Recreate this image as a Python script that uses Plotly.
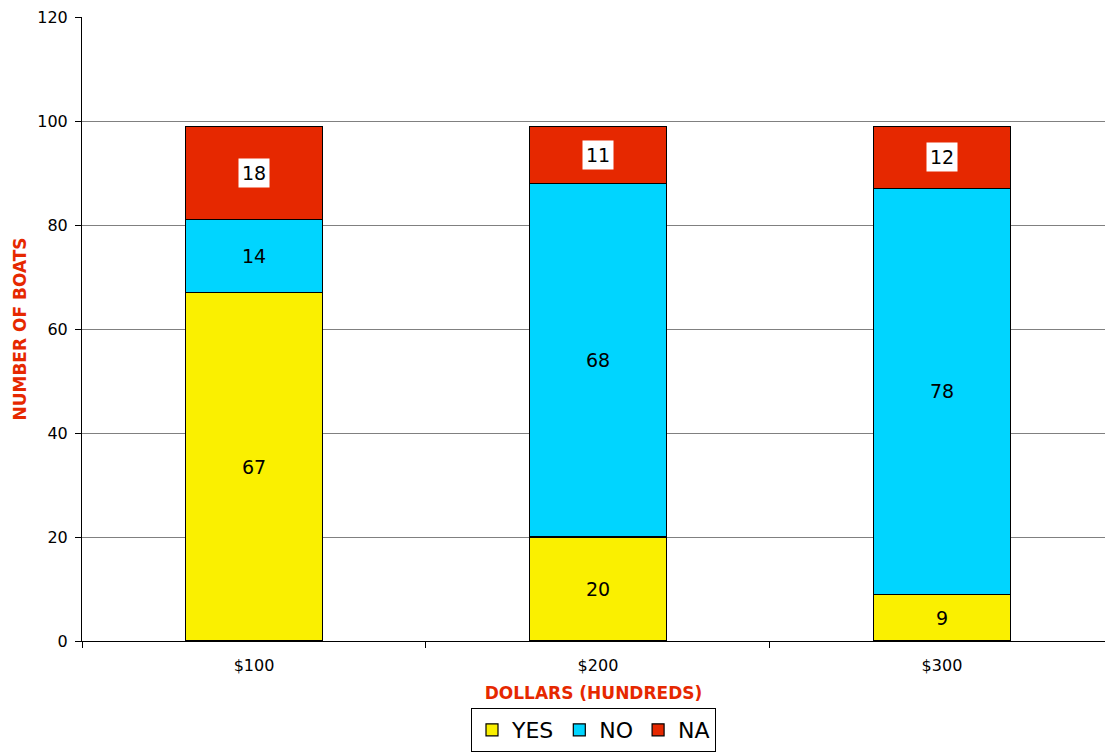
import plotly.graph_objects as go

categories = ["$100", "$200", "$300"]
yes_vals = [67, 20, 9]
no_vals = [14, 68, 78]
na_vals = [18, 11, 12]
y_ticks = [0, 20, 40, 60, 80, 100, 120]

colors = {"YES": "#faf000", "NO": "#00d5ff", "NA": "#e62800"}
font_family = "DejaVu Sans, Verdana, sans-serif"

fig = go.Figure()
for name, vals in [("YES", yes_vals), ("NO", no_vals), ("NA", na_vals)]:
    fig.add_trace(go.Bar(
        x=categories, y=vals, name=name,
        marker=dict(color=colors[name], line=dict(color="#000000", width=1.2)),
        width=0.4,
    ))

# value labels centred in each segment; NA labels sit on white boxes
for i, cat in enumerate(categories):
    base = 0
    for name, vals in [("YES", yes_vals), ("NO", no_vals), ("NA", na_vals)]:
        v = vals[i]
        fig.add_annotation(
            x=cat, y=base + v / 2, text=str(v), showarrow=False,
            font=dict(family=font_family, size=19, color="#000000"),
            bgcolor="#ffffff" if name == "NA" else "rgba(0,0,0,0)",
            borderpad=3,
        )
        base += v

fig.update_layout(
    barmode="stack",
    width=1105, height=754,
    margin=dict(l=82, r=0, t=17, b=113),
    paper_bgcolor="#ffffff", plot_bgcolor="#ffffff",
    font=dict(family=font_family, color="#000000"),
    showlegend=True,
    legend=dict(
        orientation="h", x=0.5, xanchor="center", y=-111 / 624, yanchor="bottom",
        traceorder="normal",
        bordercolor="#000000", borderwidth=1,
        font=dict(family=font_family, size=22, color="#000000"),
        itemwidth=30, tracegroupgap=0,
    ),
    bargap=0.6,
)

fig.update_xaxes(
    type="category", range=[-0.5, 2.474],
    tickson="boundaries", ticks="outside", ticklen=6, tickcolor="#000000",
    ticklabelstandoff=10,
    showline=True, linecolor="#000000", linewidth=1,
    showgrid=False,
    tickfont=dict(family=font_family, size=16, color="#000000"),
    title=dict(text="<b>DOLLARS (HUNDREDS)</b>", standoff=12,
               font=dict(family=font_family, size=17, color="#e62800")),
)
fig.update_yaxes(
    range=[0, 120], tickvals=y_ticks,
    ticks="outside", ticklen=6, tickcolor="#000000",
    ticklabelstandoff=4,
    showline=True, linecolor="#000000", linewidth=1,
    showgrid=True, gridcolor="#808080", gridwidth=1,
    zeroline=False,
    tickfont=dict(family=font_family, size=16, color="#000000"),
    title=dict(text="<b>NUMBER OF BOATS</b>", standoff=6,
               font=dict(family=font_family, size=17, color="#e62800")),
)

fig.write_html("out.html")
